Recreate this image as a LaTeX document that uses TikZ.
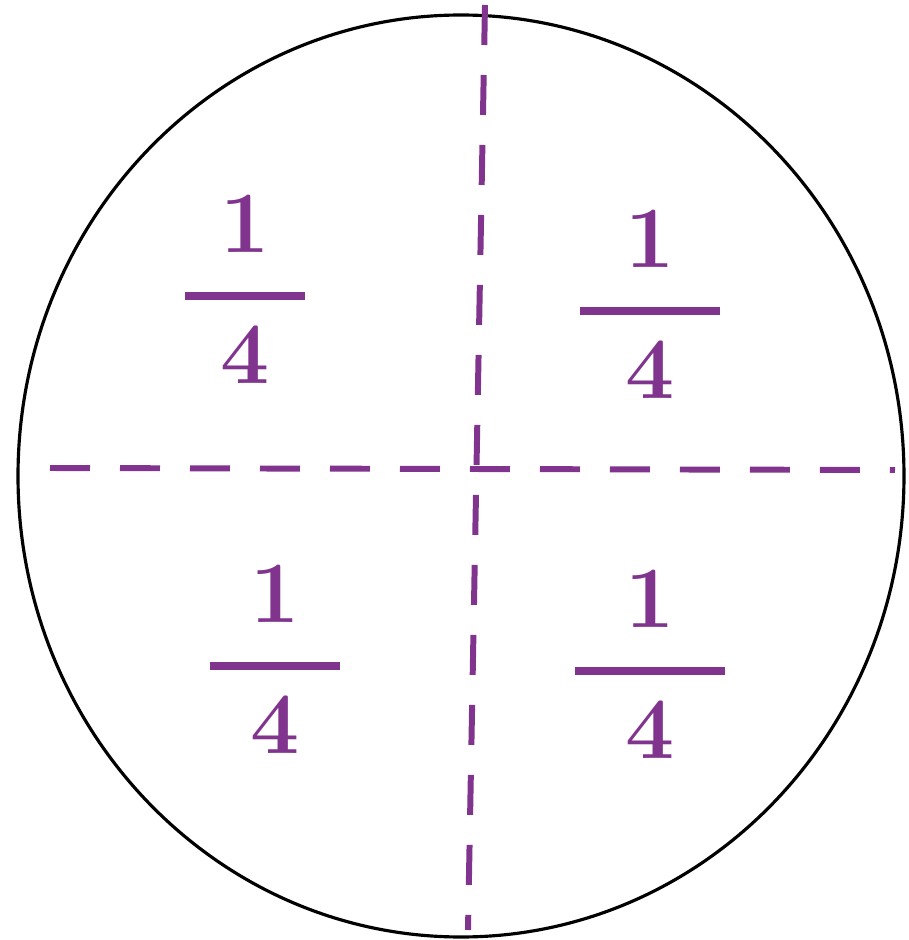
\documentclass[tikz,border=0pt]{standalone}
\usepackage{amsmath}
\usepackage{tikz}
\usetikzlibrary{positioning,shapes.geometric}
\definecolor{ink}{RGB}{128,52,142}
\newcommand{\quarter}[1]{$\genfrac{}{}{2.2pt}{0}{\makebox[#1]{$1$}}{4}$}

\begin{document}
\begin{tikzpicture}[
      rim/.style={draw=black, line width=0.9pt},
      cut/.style={draw=ink, line width=1.7pt, dash pattern=on 0.4cm off 0.3cm},
      frac/.style={text=ink, font=\fontsize{30}{36}\selectfont\boldmath, inner sep=0pt},
    ]
    \useasboundingbox (0,0) rectangle (9.08,9.40);
    \node[rim, ellipse, minimum width=8.86cm, minimum height=9.22cm] (disc) at (4.61,4.64) {};
    \coordinate (top) at (4.85,9.35);
    \coordinate (bot) at (4.68,0.10);
    \coordinate (lft) at (0.50,4.72);
    \coordinate (rgt) at (8.95,4.70);
    \draw[cut] (top) -- (bot);
    \draw[cut] (lft) -- (rgt);
    \node[frac] (q1) at (2.45,6.50) {\quarter{1.2cm}};
    \node[frac] (q2) at (6.50,6.35) {\quarter{1.4cm}};
    \node[frac] (q3) at (2.75,2.80) {\quarter{1.3cm}};
    \node[frac] (q4) at (6.50,2.75) {\quarter{1.5cm}};
  \end{tikzpicture}
\end{document}
